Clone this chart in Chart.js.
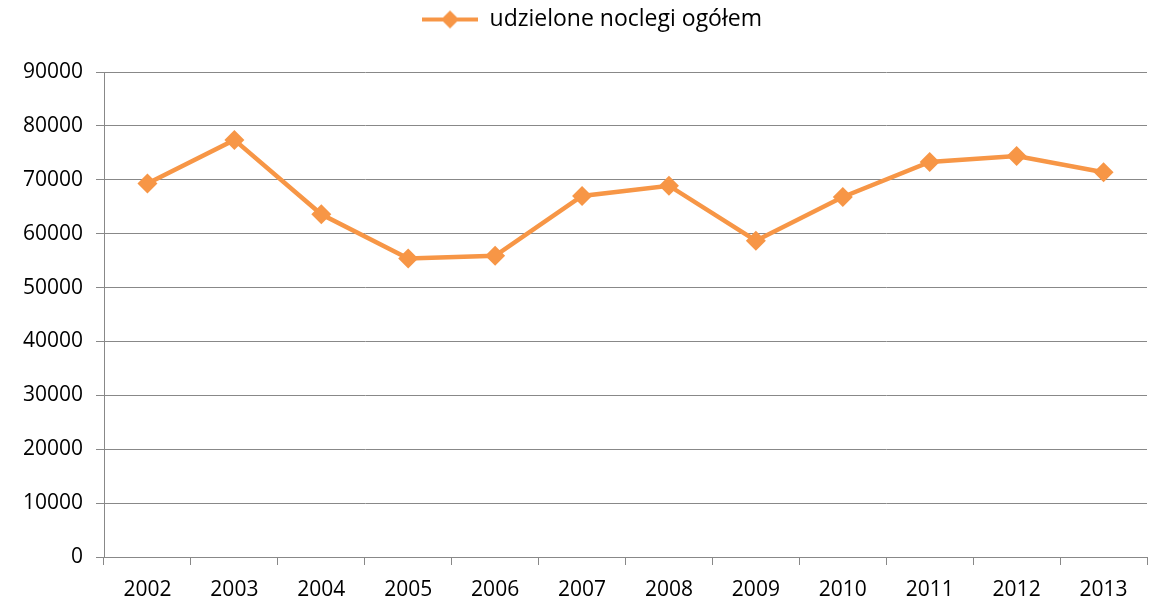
<!DOCTYPE html>
<html>
<head>
<meta charset="utf-8">
<script src="https://cdn.jsdelivr.net/npm/chart.js@4.4.0/dist/chart.umd.min.js"></script>
<style>
  html, body { margin: 0; padding: 0; background: #fff; }
  #wrap { width: 1157px; height: 603px; }
</style>
</head>
<body>
<div id="wrap"><canvas id="chart" width="1157" height="603"></canvas></div>
<script>
// dane z wykresu
const years = ['2002', '2003', '2004', '2005', '2006', '2007', '2008', '2009', '2010', '2011', '2012', '2013'];
const noclegi = [69300, 77400, 63600, 55400, 55900, 67000, 68900, 58700, 66800, 73300, 74400, 71400];
const seriesLabel = 'udzielone noclegi ogółem';
const yTicks = [0, 10000, 20000, 30000, 40000, 50000, 60000, 70000, 80000, 90000];

const orange = '#F79646';
const fontFamily = "'Open Sans', 'Noto Sans', sans-serif";

// ikonka legendy: linia z rombem
const legendIcon = document.createElement('canvas');
legendIcon.width = 56;
legendIcon.height = 22;
{
  const c = legendIcon.getContext('2d');
  c.strokeStyle = orange;
  c.lineWidth = 4;
  c.beginPath();
  c.moveTo(0, 11);
  c.lineTo(56, 11);
  c.stroke();
  c.fillStyle = orange;
  c.beginPath();
  c.moveTo(28, 2);
  c.lineTo(37, 11);
  c.lineTo(28, 20);
  c.lineTo(19, 11);
  c.closePath();
  c.fill();
}

// legenda: stala wysokosc i lekkie przesuniecie w prawo
const legendTweak = {
  id: 'legendTweak',
  afterInit(chart) {
    const lg = chart.legend;
    const fit = lg.fit;
    lg.fit = function () {
      fit.call(this);
      this.height = 72;
    };
    const draw = lg.draw;
    lg.draw = function () {
      chart.ctx.save();
      chart.ctx.translate(16, 0);
      draw.call(this);
      chart.ctx.restore();
    };
  }
};

new Chart(document.getElementById('chart'), {
  type: 'line',
  data: {
    labels: years,
    datasets: [{
      label: seriesLabel,
      data: noclegi,
      borderColor: orange,
      backgroundColor: orange,
      borderWidth: 4.5,
      pointStyle: 'rectRot',
      pointRadius: 10,
      pointHoverRadius: 10,
      pointBorderWidth: 0,
      tension: 0,
      fill: false
    }]
  },
  options: {
    responsive: false,
    animation: false,
    layout: { padding: { top: 0, right: 9, left: 4, bottom: 0 } },
    plugins: {
      tooltip: { enabled: false },
      legend: {
        position: 'top',
        labels: {
          usePointStyle: true,
          pointStyleWidth: 56,
          color: '#000',
          font: { family: fontFamily, size: 23 },
          padding: 8,
          generateLabels: (chart) => [{
            text: seriesLabel,
            pointStyle: legendIcon,
            fillStyle: orange,
            strokeStyle: orange,
            lineWidth: 0,
            datasetIndex: 0
          }]
        }
      }
    },
    scales: {
      x: {
        offset: true,
        border: { color: '#888', width: 1 },
        grid: {
          offset: true,
          drawOnChartArea: false,
          drawTicks: true,
          tickLength: 8,
          color: '#888'
        },
        afterFit: (scale) => { scale.height = 46; },
        ticks: {
          color: '#000',
          padding: 12,
          font: { family: fontFamily, size: 21 },
          maxRotation: 0
        }
      },
      y: {
        min: 0,
        max: 90000,
        border: { color: '#888', width: 1 },
        grid: {
          color: '#888',
          tickLength: 8
        },
        afterBuildTicks: (scale) => {
          scale.ticks = yTicks.map(v => ({ value: v }));
        },
        afterFit: (scale) => { scale.width = 100; },
        ticks: {
          color: '#000',
          padding: 13,
          font: { family: fontFamily, size: 21 },
          callback: (v) => String(v)
        }
      }
    }
  },
  plugins: [legendTweak]
});
</script>
</body>
</html>
